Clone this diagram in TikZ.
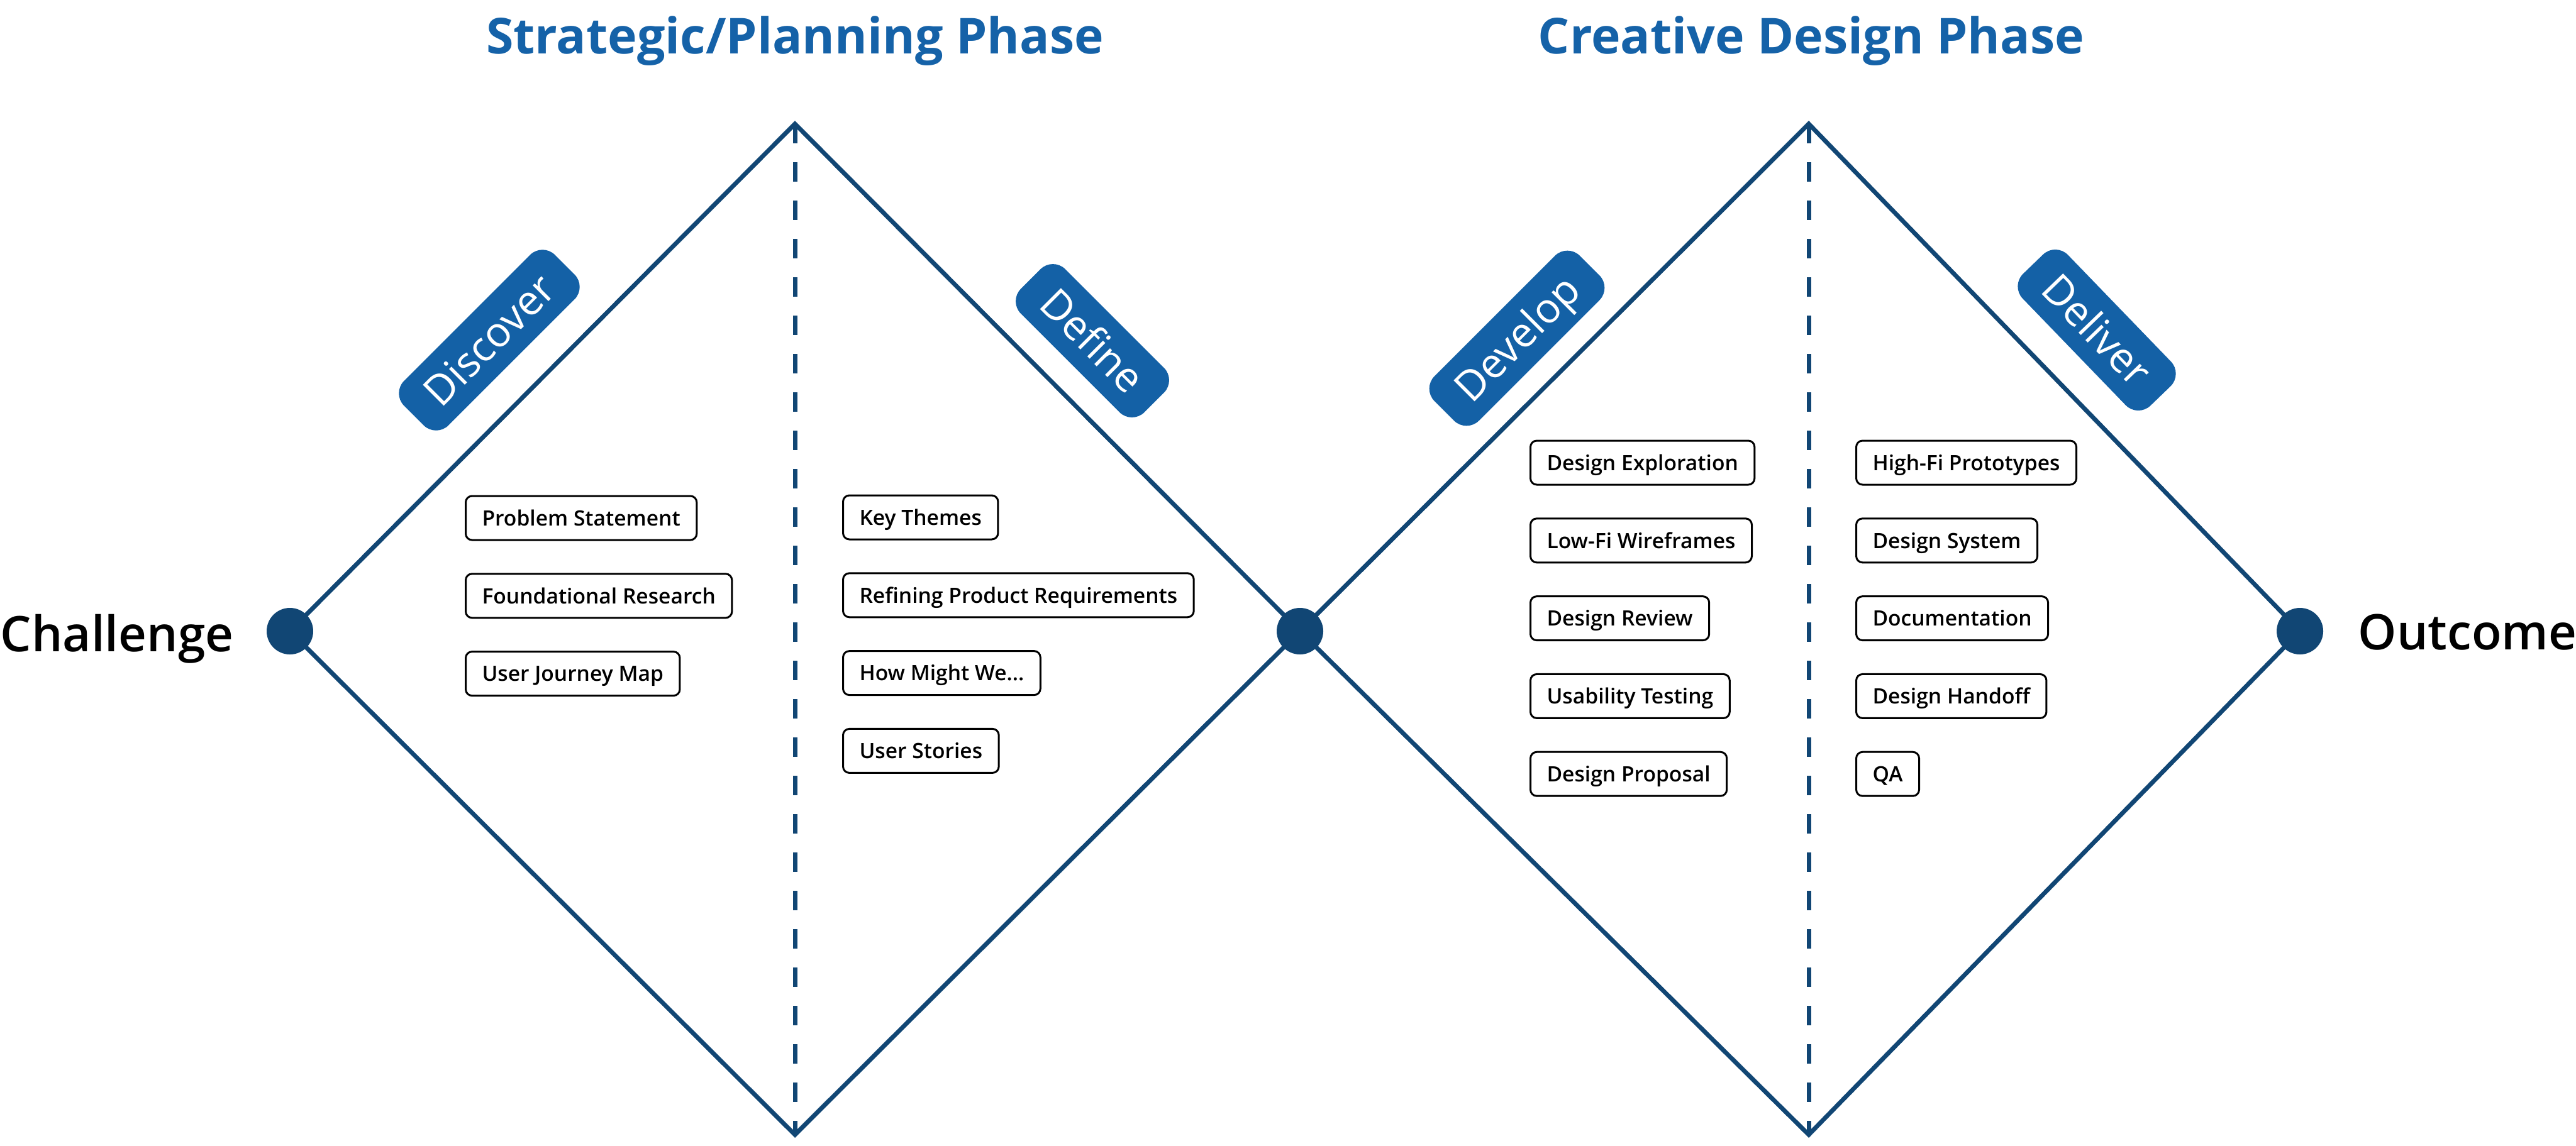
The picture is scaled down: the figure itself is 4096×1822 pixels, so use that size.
\documentclass[tikz,border=0pt]{standalone}
\usepackage{fontspec}
\setmainfont{Open Sans}
\IfFontExistsTF{Open Sans SemiBold}{\newfontfamily\semifont{Open Sans SemiBold}}{%
  \IfFontExistsTF{Open Sans Semibold}{\newfontfamily\semifont{Open Sans Semibold}}{%
    \newfontfamily\semifont{Open Sans}[FakeBold=2]}}
\usepackage{tikz}
\usetikzlibrary{positioning}
\definecolor{linkblue}{HTML}{114674}
\definecolor{phaseblue}{HTML}{1461A6}
\definecolor{titleblue}{HTML}{1562A8}
\tikzstyle{item} = [rectangle, rounded corners=2.5pt, draw=black, line width=0.75pt, minimum height=17.5pt, inner xsep=6.5pt, inner ysep=0pt, text height=6.1pt, text depth=0pt, font=\semifont\fontsize{8.4pt}{10pt}\selectfont]
\tikzstyle{phase} = [rectangle, rounded corners=7pt, fill=phaseblue, text=white, minimum height=25pt, inner xsep=9.5pt, inner ysep=0pt, text height=11.8pt, text depth=0pt, font=\fontsize{16.5pt}{18pt}\selectfont]
\tikzstyle{dot} = [circle, fill=linkblue, minimum size=18.5pt, inner sep=0pt]
\tikzstyle{edge} = [draw=linkblue, line width=1.75pt]
\tikzstyle{divider} = [draw=linkblue, line width=1.75pt, dash pattern=on 7.75pt off 7.5pt]
\tikzstyle{title} = [font=\bfseries\fontsize{19.7pt}{22pt}\selectfont, text=titleblue, inner sep=0pt]
\tikzstyle{endpoint} = [font=\semifont\fontsize{19.5pt}{24pt}\selectfont, inner sep=0pt]

\begin{document}
\begin{tikzpicture}[x=0.25pt, y=-0.25pt, node distance=12.7pt]
			\useasboundingbox (0,0) rectangle (4096,1822);

			% corners of the two diamonds
			\coordinate (chal) at (461,1004);
			\coordinate (top1) at (1264,197);
			\coordinate (bot1) at (1264,1805);
			\coordinate (mid) at (2067,1004);
			\coordinate (top2) at (2876,197);
			\coordinate (bot2) at (2876,1805);
			\coordinate (out) at (3657,1004);

			\draw[edge] (chal) -- (top1) -- (mid) -- (bot1) -- cycle;
			\draw[edge] (mid) -- (top2) -- (out) -- (bot2) -- cycle;
			\draw[divider] (top1) -- (bot1);
			\draw[divider] (top2) -- (bot2);

			\node (chaldot) [dot] at (chal) {};
			\node (middot) [dot] at (mid) {};
			\node (outdot) [dot] at (out) {};

			\node (challenge) [endpoint, anchor=base west] at (0,1036) {Challenge};
			\node (outcome) [endpoint, anchor=base west] at (3749,1033) {Outcome};

			\node (strategic) [title, anchor=base] at (1264,85) {Strategic/Planning Phase};
			\node (creative) [title, anchor=base] at (2880,85) {Creative Design Phase};

			\node (discover) [phase, rotate=45] at (778,541) {Discover};
			\node (define) [phase, rotate=-45] at (1737,542) {Define};
			\node (develop) [phase, rotate=45] at (2412,538) {Develop};
			\node (deliver) [phase, rotate=-46] at (3334,525) {Deliver};

			% discover
			\node (problem) [item, anchor=west] at (739,824) {Problem Statement};
			\node (research) [item, below=of problem.south west, anchor=north west] {Foundational Research};
			\node (journey) [item, below=of research.south west, anchor=north west] {User Journey Map};

			% define
			\node (themes) [item, anchor=west] at (1339,823) {Key Themes};
			\node (reqs) [item, below=of themes.south west, anchor=north west] {Refining Product Requirements};
			\node (hmw) [item, below=of reqs.south west, anchor=north west] {How Might We...};
			\node (stories) [item, below=of hmw.south west, anchor=north west] {User Stories};

			% develop
			\node (explore) [item, anchor=west] at (2432,736) {Design Exploration};
			\node (lowfi) [item, below=of explore.south west, anchor=north west] {Low-Fi Wireframes};
			\node (review) [item, below=of lowfi.south west, anchor=north west] {Design Review};
			\node (usability) [item, below=of review.south west, anchor=north west] {Usability Testing};
			\node (proposal) [item, below=of usability.south west, anchor=north west] {Design Proposal};

			% deliver
			\node (highfi) [item, anchor=west] at (2950,736) {High-Fi Prototypes};
			\node (system) [item, below=of highfi.south west, anchor=north west] {Design System};
			\node (docs) [item, below=of system.south west, anchor=north west] {Documentation};
			\node (handoff) [item, below=of docs.south west, anchor=north west] {Design Handoff};
			\node (qa) [item, below=of handoff.south west, anchor=north west] {QA};

			\end{tikzpicture}
\end{document}
